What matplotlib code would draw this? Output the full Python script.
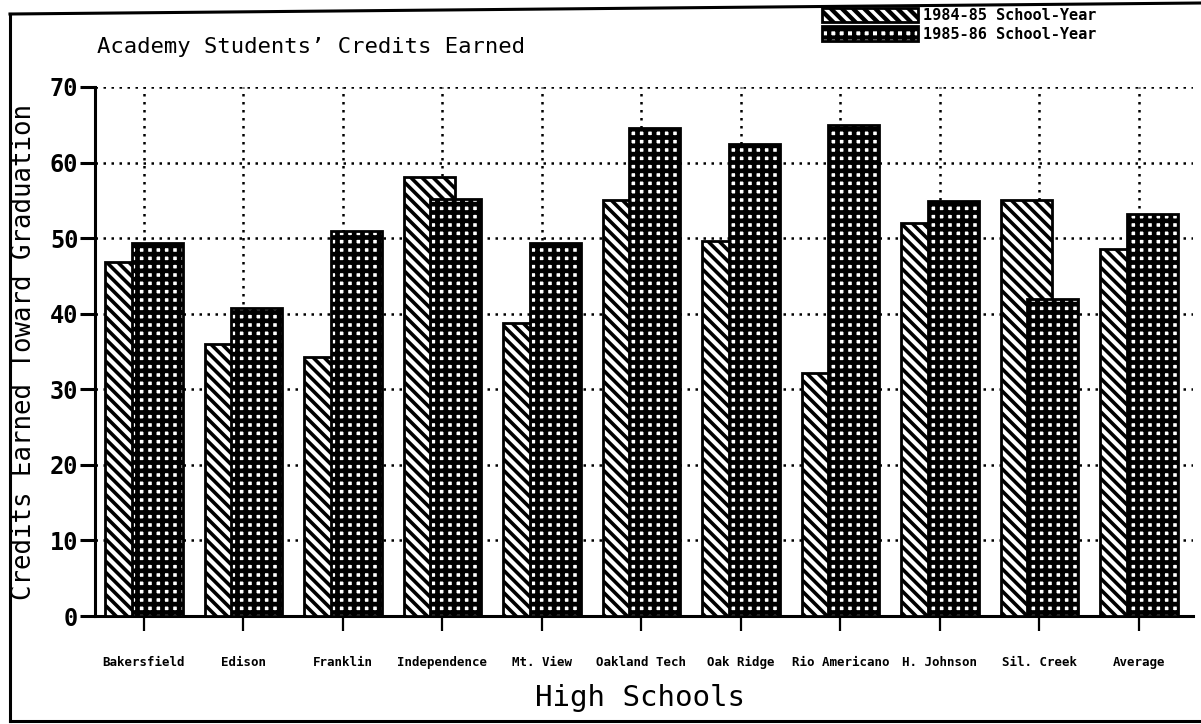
import matplotlib
matplotlib.use("Agg")
import matplotlib.pyplot as plt
from matplotlib.lines import Line2D
from matplotlib.font_manager import FontProperties
import numpy as np

# ---- data ----
schools = ["Bakersfield", "Edison", "Franklin", "Independence", "Mt. View",
           "Oakland Tech", "Oak Ridge", "Rio Americano", "H. Johnson",
           "Sil. Creek", "Average"]
credits_1984_85 = [46.8, 36.0, 34.3, 58.1, 38.8, 55.0, 49.6, 32.1, 52.0, 55.0, 48.5]
credits_1985_86 = [49.4, 40.8, 50.9, 55.2, 49.3, 64.6, 62.5, 65.0, 54.9, 42.0, 53.2]
series_labels = ["1984-85 School-Year", "1985-86 School-Year"]
y_ticks = [0, 10, 20, 30, 40, 50, 60, 70]

MONO = "DejaVu Sans Mono"
W, H = 1201, 724

plt.rcParams["font.family"] = [MONO]
plt.rcParams["hatch.linewidth"] = 3.1

fig = plt.figure(figsize=(W / 100, H / 100), dpi=100)
ax = fig.add_axes([95 / W, 1 - 616 / H, (1193 - 95) / W, (616 - 87) / H])

x = np.arange(len(schools))
bw = 0.51
with plt.rc_context({"hatch.linewidth": 2.6}):
    b1 = ax.bar(x - 0.133, credits_1984_85, width=bw, facecolor="white",
                edgecolor="black", hatch="\\\\\\", linewidth=2.0, zorder=3)
with plt.rc_context({"hatch.linewidth": 3.4}):
    b2 = ax.bar(x + 0.133, credits_1985_86, width=bw, facecolor="white",
                edgecolor="black", hatch="++", linewidth=2.0, zorder=4)

ax.set_xlim(-0.492, 10.543)
ax.set_ylim(0, 70)
ax.set_yticks(y_ticks)
ax.set_yticklabels([str(v) for v in y_ticks], fontsize=17, fontweight="bold",
                   family=MONO)
ax.set_xticks(x)
ax.set_xticklabels(schools, fontsize=9, fontweight="bold", family=MONO)

ax.grid(True, color="black", linestyle=(0, (1, 2.2)), linewidth=1.8)
ax.set_axisbelow(True)

for s in ("top", "right"):
    ax.spines[s].set_visible(False)
ax.spines["left"].set_linewidth(2.2)
ax.spines["bottom"].set_linewidth(2.2)

ax.tick_params(axis="y", direction="out", length=11, width=2.2, pad=1)
ax.tick_params(axis="x", direction="out", length=11, width=1.6, pad=18)

ax.set_ylabel("Credits Earned Toward Graduation", fontsize=18.5, family=MONO,
              va="center")
ax.yaxis.set_label_coords((24 - 95) / 1098, 0.5)
ax.set_xlabel("High Schools", fontsize=21, family=MONO, va="center")
ax.xaxis.set_label_coords((640 - 95) / 1098, (616 - 698) / 529)

ax.set_title("Academy Students\u2019 Credits Earned", loc="left", fontsize=16,
             family=MONO, x=(97 - 95) / 1098, y=(616 - 47) / 529, va="center",
             pad=0)

ax.legend(handles=[b1, b2], labels=series_labels, loc="upper left",
          bbox_to_anchor=(822 / W, 1 - 8 / H), bbox_transform=fig.transFigure,
          frameon=False, borderpad=0, borderaxespad=0, handlelength=6.3,
          handleheight=1.05, handletextpad=0.3, labelspacing=0.2,
          prop=FontProperties(family=MONO, weight="bold", size=11))

# page frame of the scanned figure
frame_kw = dict(color="black", linewidth=2.2, transform=fig.transFigure)
fig.add_artist(Line2D([10 / W, 1.0], [1 - 14 / H, 1 - 3 / H], **frame_kw))
fig.add_artist(Line2D([10 / W, 10 / W], [1 - 14 / H, 1 - 721 / H], **frame_kw))
fig.add_artist(Line2D([10 / W, 1.0], [1 - 721 / H, 1 - 721 / H], **frame_kw))

fig.savefig("out.png", dpi=100)
